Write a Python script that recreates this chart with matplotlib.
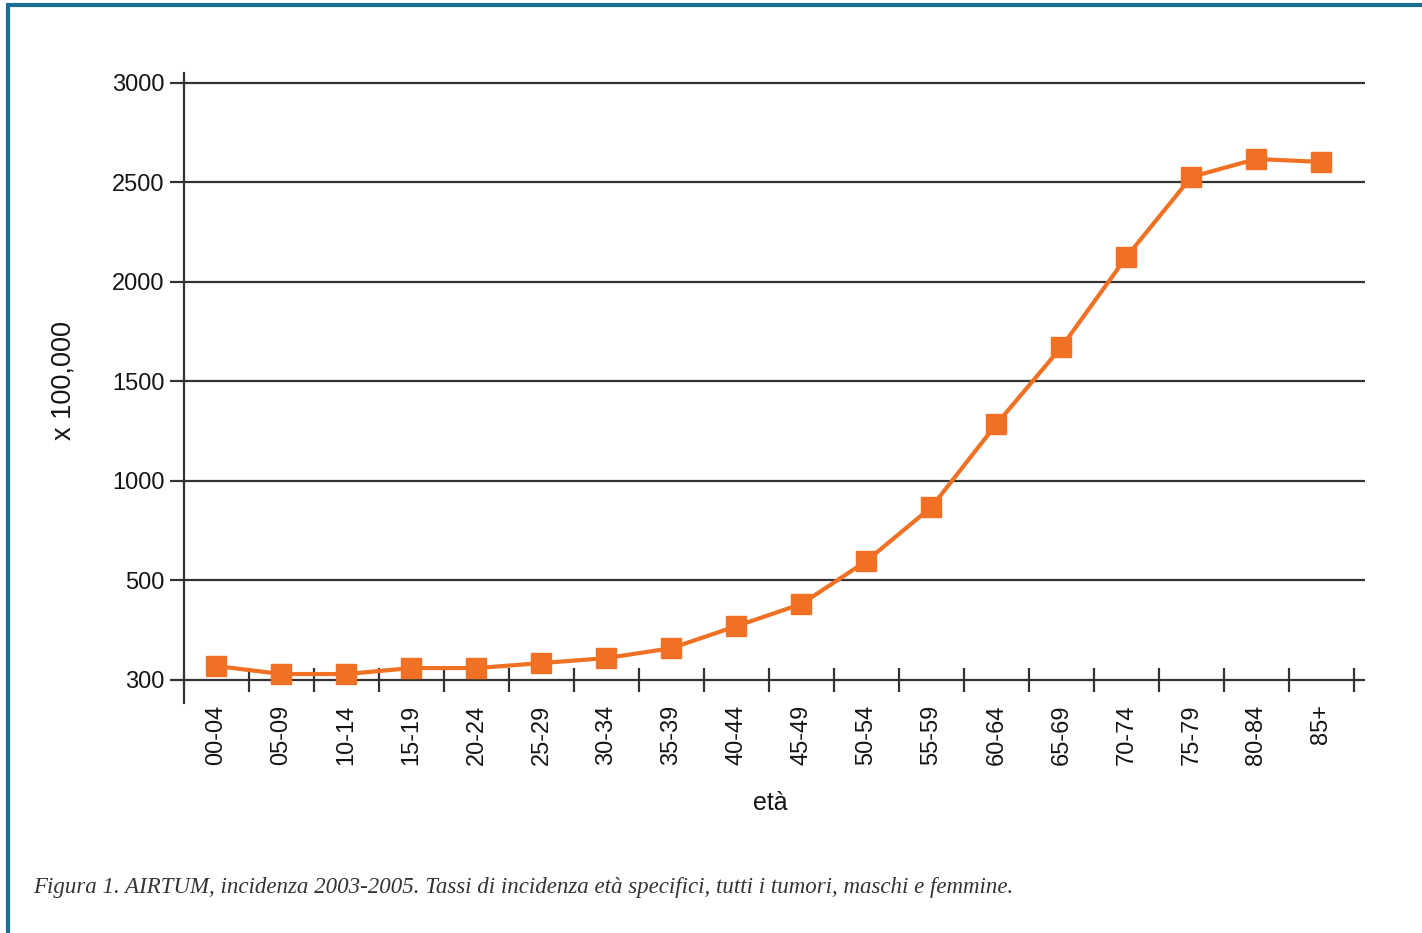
import matplotlib
matplotlib.use("Agg")
import matplotlib.pyplot as plt
from matplotlib.lines import Line2D

# ---- data ----
age_groups = ["00-04", "05-09", "10-14", "15-19", "20-24", "25-29", "30-34", "35-39",
              "40-44", "45-49", "50-54", "55-59", "60-64", "65-69", "70-74", "75-79",
              "80-84", "85+"]
rates = [70, 30, 30, 60, 60, 85, 110, 160, 271, 382, 598, 869, 1286, 1673, 2126, 2528, 2618, 2603]
y_ticks = [0, 500, 1000, 1500, 2000, 2500, 3000]
y_tick_labels = ["300", "500", "1000", "1500", "2000", "2500", "3000"]
caption = "Figura 1. AIRTUM, incidenza 2003-2005. Tassi di incidenza età specifici, tutti i tumori, maschi e femmine."

W, H = 1422, 933
fig = plt.figure(figsize=(W / 100, H / 100), dpi=100)
fig.patch.set_facecolor("white")

sans = ["Liberation Sans", "DejaVu Sans"]
dark = "#333333"
txt = "#151515"
orange = "#f07024"

ax = fig.add_axes([184 / W, 1 - 703 / H, (1365 - 184) / W, (703 - 73) / H])
ax.set_xlim(-0.5, 17.67)
ax.set_ylim(-115.6, 3050)

for s in ["top", "right", "bottom"]:
    ax.spines[s].set_visible(False)
ax.spines["left"].set_color(dark)
ax.spines["left"].set_linewidth(1.6)

for yv in y_ticks:
    ax.axhline(yv, color=dark, lw=1.6, zorder=1)

n = len(age_groups)
ax.vlines([k - 0.5 for k in range(1, n + 1)], -60, 60, color=dark, lw=1.6, zorder=1)

ax.plot(range(n), rates, color=orange, lw=3, marker="s", markersize=14,
        markeredgecolor=orange, markerfacecolor=orange, zorder=3, clip_on=False)

ax.set_yticks(y_ticks)
ax.set_yticklabels(y_tick_labels, family=sans, fontsize=17, color=txt)
ax.tick_params(axis="y", direction="out", length=10, width=1.6, color=dark, pad=4)

ax.set_xticks(range(n))
ax.set_xticklabels(age_groups, rotation=90, family=sans, fontsize=17, color=txt,
                   va="top", ha="center")
ax.tick_params(axis="x", length=0, pad=1)

fig.text(63 / W, 1 - 381 / H, "x 100,000", rotation=90, family=sans, fontsize=19.5,
         color=txt, ha="center", va="center")
fig.text(770 / W, 1 - 803 / H, "età", family=sans, fontsize=18, color=txt,
         ha="center", va="center")

fig.text(33 / W, 1 - 888 / H, caption, family=["Liberation Serif", "DejaVu Serif"],
         style="italic", fontsize=16.5, color="#333333", ha="left", va="center")

frame_col = "#1b6f96"
fig.add_artist(Line2D([7.5 / W, 7.5 / W], [0, 1 - 5 / H], transform=fig.transFigure,
                      color=frame_col, lw=3, solid_capstyle="butt"))
fig.add_artist(Line2D([6 / W, 1], [1 - 5 / H, 1 - 5 / H], transform=fig.transFigure,
                      color=frame_col, lw=3, solid_capstyle="butt"))

fig.savefig("out.png", dpi=100, facecolor="white")
